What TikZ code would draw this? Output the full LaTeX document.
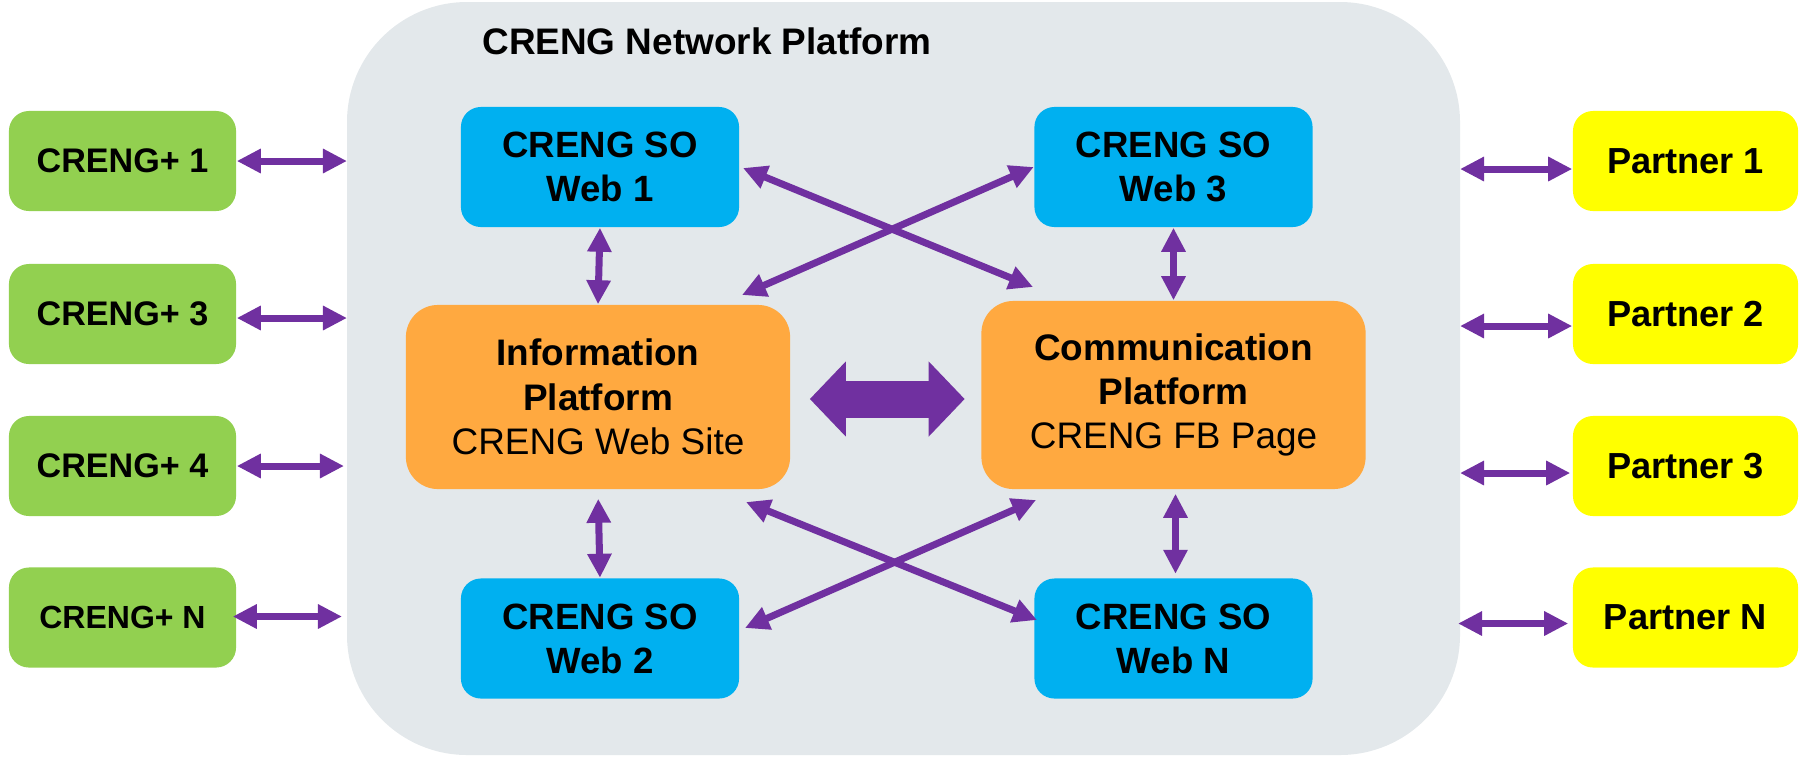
\documentclass[tikz,border=0pt]{standalone}
\usepackage{fontspec}
\setmainfont{Liberation Sans}
\usetikzlibrary{arrows.meta,calc}
\definecolor{pur}{HTML}{7030A0}
\definecolor{grn}{HTML}{92D050}
\definecolor{blu}{HTML}{00B0F0}
\definecolor{yel}{HTML}{FFFF00}
\definecolor{org}{HTML}{FFA940}
\definecolor{gry}{HTML}{E3E8EB}
\tikzset{
  sidebox/.style={rounded corners=0.2cm, inner sep=0pt, align=center, minimum height=1.0cm},
  greenbox/.style={sidebox, fill=grn, minimum width=2.27cm, font=\fontsize{9.7}{11}\selectfont\bfseries},
  yellowbox/.style={sidebox, fill=yel, minimum width=2.25cm, font=\fontsize{10.3}{12}\selectfont\bfseries},
  webbox/.style={rounded corners=0.2cm, inner sep=0pt, align=center, fill=blu, minimum width=2.78cm, minimum height=1.2cm, font=\fontsize{10.4}{12.5}\selectfont\bfseries},
  platbox/.style={rounded corners=0.32cm, inner sep=0pt, align=center, fill=org, minimum width=3.84cm, font=\fontsize{10.5}{12.6}\selectfont},
  sarrow/.style={draw=pur, line width=0.07cm, arrows={Triangle[length=0.24cm,width=0.23cm]-Triangle[length=0.24cm,width=0.23cm]}},
  bigarrow/.style={draw=pur, line width=0.37cm, arrows={Triangle[length=0.36cm,width=0.73cm]-Triangle[length=0.36cm,width=0.73cm]}}
}
\begin{document}
\begin{tikzpicture}[x=0.01cm,y=-0.01cm]
\useasboundingbox (0,0) rectangle (1800,757);
% platform background
\path[fill=gry, rounded corners=1.2cm] (347,2) rectangle (1460,755);
\coordinate (platform) at (903.5,378.5);
\node[font=\fontsize{10.5}{12}\selectfont\bfseries, inner sep=0pt] (title) at (707,41) {CRENG Network Platform};
% green boxes
\node[greenbox] (g1) at (122.5,161) {CRENG+ 1};
\node[greenbox] (g3) at (122.5,314) {CRENG+ 3};
\node[greenbox] (g4) at (122.5,466) {CRENG+ 4};
\node[greenbox, font=\fontsize{9.1}{11}\selectfont\bfseries] (gN) at (122.5,617.5) {CRENG+ N};
% yellow boxes
\node[yellowbox] (p1) at (1685.5,161) {Partner 1};
\node[yellowbox] (p2) at (1685.5,314) {Partner 2};
\node[yellowbox] (p3) at (1685.5,466) {Partner 3};
\node[yellowbox] (pN) at (1685.5,617.5) {Partner N};
% web boxes
\node[webbox] (w1) at (600,167) {CRENG SO\\Web 1};
\node[webbox] (w3) at (1173.5,167) {CRENG SO\\Web 3};
\node[webbox] (w2) at (600,638.5) {CRENG SO\\Web 2};
\node[webbox] (wN) at (1173.5,638.5) {CRENG SO\\Web N};
% platform boxes
\node[platbox, minimum height=1.84cm] (info) at (598,397) {{\bfseries Information}\\{\bfseries Platform}\\CRENG Web Site};
\node[platbox, minimum height=1.88cm] (comm) at (1173.5,395) {{\bfseries Communication}\\{\bfseries Platform}\\CRENG FB Page};
% free ends on the platform border
\coordinate (lb) at (347,0);
\coordinate (rb) at (1460,0);
% side arrows
\draw[sarrow] (g1.east) -- (g1.east -| lb);
\draw[sarrow] ([yshift=-0.04cm]g3.east) -- ([yshift=-0.04cm]g3.east -| lb);
\draw[sarrow] (g4.east) -- ([xshift=-0.03cm]g4.east -| lb);
\draw[sarrow] ([xshift=-0.04cm,yshift=0.01cm]gN.east) -- ([xshift=-0.05cm,yshift=0.01cm]gN.east -| lb);
\draw[sarrow] ([yshift=-0.08cm]p1.west -| rb) -- ([yshift=-0.08cm]p1.west);
\draw[sarrow] ([yshift=-0.12cm]p2.west -| rb) -- ([yshift=-0.12cm]p2.west);
\draw[sarrow] ([yshift=-0.07cm]p3.west -| rb) -- ([xshift=-0.02cm,yshift=-0.07cm]p3.west);
\draw[sarrow] ([xshift=-0.02cm,yshift=-0.06cm]pN.west -| rb) -- ([xshift=-0.04cm,yshift=-0.06cm]pN.west);
% vertical arrows
\draw[sarrow] (w1.south) -- (info.north);
\draw[sarrow] (w3.south) -- (comm.north);
\draw[sarrow, shorten <=0.09cm] (info.south) -- (w2.north);
\draw[sarrow, shorten <=0.04cm, shorten >=0.04cm] ([xshift=0.02cm]comm.south) -- ([xshift=0.02cm]wN.north);
% diagonal arrows
\coordinate (d1) at (1033,287);
\coordinate (d2) at (742,295);
\coordinate (d3) at (746,502);
\coordinate (d4) at (1037,620);
\coordinate (d5) at (745,628);
\coordinate (d6) at (1036,500);
\coordinate (d7) at (743,168);
\draw[sarrow] (d7) -- (d1);
\draw[sarrow] (d2) -- (w3.west);
\draw[sarrow] (d3) -- (d4);
\draw[sarrow] (d5) -- (d6);
% central arrow
\draw[bigarrow, shorten <=0.19cm, shorten >=0.16cm] ([yshift=-0.02cm]info.east) -- ([yshift=-0.02cm]info.east -| comm.west);
\end{tikzpicture}
\end{document}
